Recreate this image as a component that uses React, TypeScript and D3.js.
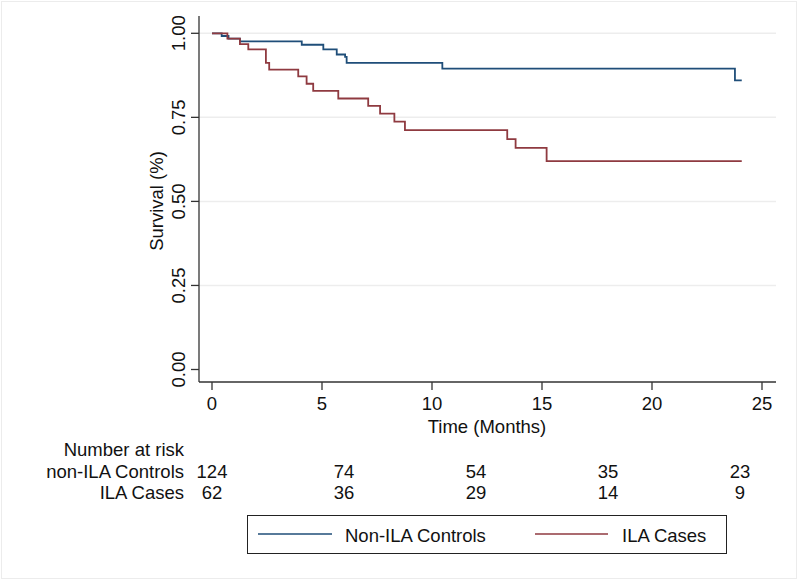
import React from "react";
import * as d3 from "d3";

const xTicks = [0, 5, 10, 15, 20, 25];
const yTicks = [0, 0.25, 0.5, 0.75, 1.0];
const yTickLabels = ["0.00", "0.25", "0.50", "0.75", "1.00"];

// Kaplan-Meier steps: [time (months), survival]
const controlsTimes = [0, 0.44, 0.75, 1.27, 4.08, 5.06, 5.67, 6.05, 6.12, 10.47, 23.77, 24.08];
const controlsSurv = [1, 0.992, 0.984, 0.976, 0.966, 0.952, 0.937, 0.93, 0.912, 0.895, 0.86, 0.86];

const casesTimes = [0, 0.7, 1.27, 1.65, 2.45, 2.6, 3.92, 4.3, 4.6, 5.74, 7.1, 7.64, 8.29, 8.77, 13.42, 13.8, 15.21, 24.08];
const casesSurv = [1, 0.984, 0.968, 0.952, 0.912, 0.892, 0.872, 0.85, 0.829, 0.806, 0.784, 0.761, 0.737, 0.712, 0.685, 0.659, 0.62, 0.62];

const riskTimes = [0, 6, 12, 18, 24];
const riskControls = [124, 74, 54, 35, 23];
const riskCases = [62, 36, 29, 14, 9];

const seriesNames = ["Non-ILA Controls", "ILA Cases"];
const riskRowNames = ["non-ILA Controls", "ILA Cases"];

const BLUE = "#1f4e79";
const RED = "#8f3a40";
const FONT = "'Liberation Sans', Arial, Helvetica, sans-serif";

export default function App() {
  const W = 800, H = 583;
  const plotLeft = 199, plotRight = 776, plotTop = 16, plotBottom = 382;
  const x = d3.scaleLinear().domain([0, 25]).range([212, 762]);
  const y = d3.scaleLinear().domain([0, 1]).range([369.5, 33.3]);

  const line = d3
    .line<[number, number]>()
    .x((d) => x(d[0]))
    .y((d) => y(d[1]))
    .curve(d3.curveStepAfter);

  const ctrl: [number, number][] = controlsTimes.map((t, i) => [t, controlsSurv[i]]);
  const cases: [number, number][] = casesTimes.map((t, i) => [t, casesSurv[i]]);

  const fs = 18.5;

  return (
    <svg
      width={W}
      height={H}
      style={{ position: "absolute", left: 0, top: 0, background: "#fff" }}
      fontFamily={FONT}
    >
      <rect x={0} y={0} width={W} height={H} fill="#fff" />
      <rect x={1.5} y={1.5} width={795} height={577} fill="none" stroke="#ececec" strokeWidth={1} />

      {/* gridlines */}
      {yTicks.filter((v) => v > 0).map((v) => (
        <line key={"g" + v} x1={plotLeft} x2={plotRight} y1={y(v)} y2={y(v)} stroke="#ededed" strokeWidth={1.5} />
      ))}

      {/* curves */}
      <path d={line(ctrl) || ""} fill="none" stroke={BLUE} strokeWidth={1.8} />
      <path d={line(cases) || ""} fill="none" stroke={RED} strokeWidth={1.8} />

      {/* axes */}
      <line x1={plotLeft} x2={plotLeft} y1={plotTop} y2={plotBottom} stroke="#333" strokeWidth={1.3} />
      <line x1={plotLeft} x2={plotRight} y1={plotBottom} y2={plotBottom} stroke="#333" strokeWidth={1.3} />

      {xTicks.map((t) => (
        <g key={"xt" + t}>
          <line x1={x(t)} x2={x(t)} y1={plotBottom} y2={plotBottom + 8} stroke="#333" strokeWidth={1.3} />
          <text x={x(t)} y={410} textAnchor="middle" fontSize={fs} fill="#111">
            {t}
          </text>
        </g>
      ))}

      {yTicks.map((v, i) => (
        <g key={"yt" + v}>
          <line x1={plotLeft - 8} x2={plotLeft} y1={y(v)} y2={y(v)} stroke="#333" strokeWidth={1.3} />
          <text
            transform={`translate(184.5,${y(v)}) rotate(-90)`}
            textAnchor="middle"
            fontSize={fs}
            fill="#111"
          >
            {yTickLabels[i]}
          </text>
        </g>
      ))}

      <text transform={`translate(163,201) rotate(-90)`} textAnchor="middle" fontSize={fs} fill="#111">
        Survival (%)
      </text>
      <text x={487} y={433} textAnchor="middle" fontSize={fs} fill="#111">
        Time (Months)
      </text>

      {/* number at risk */}
      <text x={184} y={456} textAnchor="end" fontSize={fs} fill="#111">
        Number at risk
      </text>
      <text x={184} y={478} textAnchor="end" fontSize={fs} fill="#111">
        {riskRowNames[0]}
      </text>
      <text x={184} y={499} textAnchor="end" fontSize={fs} fill="#111">
        {riskRowNames[1]}
      </text>
      {riskTimes.map((t, i) => (
        <g key={"r" + t}>
          <text x={x(t)} y={478} textAnchor="middle" fontSize={fs} fill="#111">
            {riskControls[i]}
          </text>
          <text x={x(t)} y={499} textAnchor="middle" fontSize={fs} fill="#111">
            {riskCases[i]}
          </text>
        </g>
      ))}

      {/* legend */}
      <rect x={247.5} y={515.5} width={479} height={38} fill="#fff" stroke="#222" strokeWidth={1} />
      <line x1={258} x2={332} y1={534} y2={534} stroke={BLUE} strokeWidth={1.5} />
      <text x={345} y={541.5} fontSize={fs} fill="#111">
        {seriesNames[0]}
      </text>
      <line x1={535} x2={608} y1={534} y2={534} stroke={RED} strokeWidth={1.5} />
      <text x={622} y={541.5} fontSize={fs} fill="#111">
        {seriesNames[1]}
      </text>
    </svg>
  );
}
